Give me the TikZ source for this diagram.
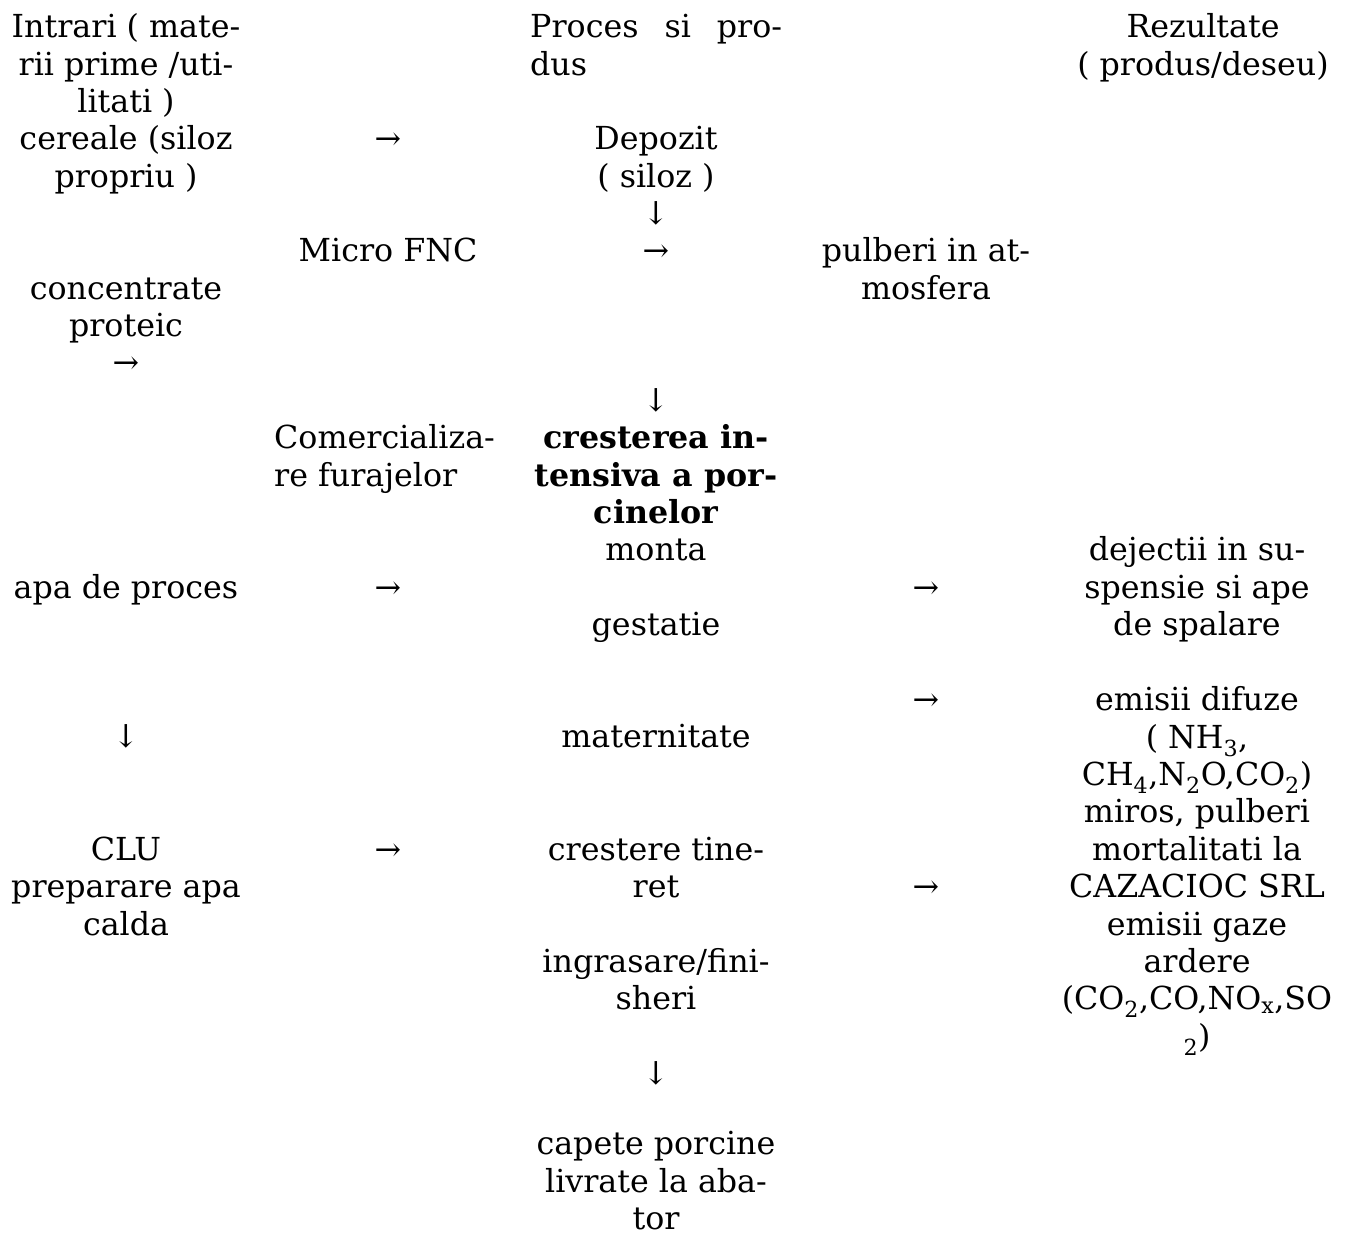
\documentclass[tikz,border=0pt]{standalone}
\usepackage{fontspec}
\setmainfont{DejaVu Serif}
\begin{document}
\begin{tikzpicture}[x=1pt,y=-1pt,
  txt/.style={anchor=north, yshift=26.13pt, align=center, inner sep=0pt,
    font=\fontsize{31.7}{37.4}\selectfont},
  txtl/.style={txt, anchor=north west, align=left},
  bld/.style={txt, font=\fontsize{31.7}{37.4}\selectfont\bfseries}]
\useasboundingbox (0,0) rectangle (1354,1232);
\begin{scope}[yshift=-2.5pt]
% column 1
\node[txt] (in) at (126,35) {\strut Intrari ( mate-\\\strut rii prime /uti-\\\strut litati )};
\node[txt] (cer) at (126,147) {\strut cereale (siloz\\\strut propriu )};
\node[txt] (conc) at (126,296.3) {\strut concentrate\\\strut proteic\\\strut →};
\node[txt] (apa) at (126,595.5) {\strut apa de proces};
\node[txt] (d1) at (126,745) {\strut ↓};
\node[txt] (clu) at (126,857.5) {\strut CLU\\\strut preparare apa\\\strut calda};
% column 2
\node[txt] (r1) at (388,147) {\strut →};
\node[txt] (fnc) at (388,259) {\strut Micro FNC};
\node[txtl] (com) at (274,446) {\strut Comercializa-\\\strut re furajelor};
\node[txt] (r2) at (388,595.5) {\strut →};
\node[txt] (r3) at (388,857.5) {\strut →};
% column 3
\node[txtl] (proc) at (530,35) {\strut\makebox[252pt][s]{Proces si pro-}\\\strut dus};
\node[txt] (dep) at (656,147) {\strut Depozit\\\strut ( siloz )\\\strut ↓};
\node[txt] (r4) at (656,259) {\strut →};
\node[txt] (d2) at (656,408.5) {\strut ↓};
\node[bld] (cres) at (656,446) {\strut cresterea in-\\\strut tensiva a por-\\\strut cinelor};
\node[txt] (mon) at (656,558) {\strut monta};
\node[txt] (ges) at (656,633) {\strut gestatie};
\node[txt] (mat) at (656,745) {\strut maternitate};
\node[txt] (tin) at (656,857.5) {\strut crestere tine-\\\strut ret};
\node[txt] (ingr) at (656,969.5) {\strut ingrasare/fini-\\\strut sheri};
\node[txt] (d3) at (656,1082) {\strut ↓};
\node[txt] (cap) at (656,1152) {\strut capete porcine\\\strut livrate la aba-\\\strut tor};
% column 4
\node[txt] (pulb) at (926,259) {\strut pulberi in at-\\\strut mosfera};
\node[txt] (r5) at (926,595.5) {\strut →};
\node[txt] (r6) at (926,708) {\strut →};
\node[txt] (r7) at (926,895) {\strut →};
% column 5
\node[txt] (rez) at (1203,35) {\strut Rezultate\\\strut ( produs/deseu)};
\node[txt] (dej) at (1197,558) {\strut dejectii in su-\\\strut spensie si ape\\\strut de spalare};
\node[txt] (emi) at (1197,708) {\strut emisii difuze\\\strut ( NH\textsubscript{3},\\\strut CH\textsubscript{4},N\textsubscript{2}O,CO\textsubscript{2})\\\strut miros, pulberi\\\strut mortalitati la\\\strut CAZACIOC SRL\\\strut emisii gaze\\\strut ardere\\\strut (CO\textsubscript{2},CO,NO\textsubscript{x},SO\\\strut \textsubscript{2})};
\end{scope}
\end{tikzpicture}
\end{document}
